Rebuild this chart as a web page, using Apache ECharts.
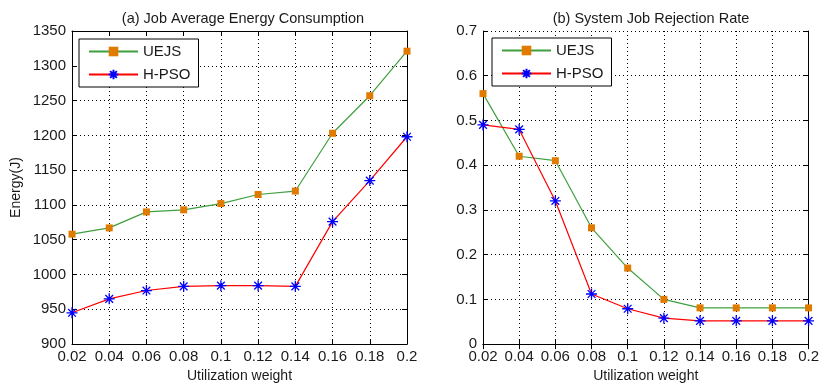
<!DOCTYPE html>
<html>
<head>
<meta charset="utf-8">
<script src="https://cdn.jsdelivr.net/npm/echarts@6/dist/echarts.min.js"></script>
<style>
  html, body { margin: 0; padding: 0; background: #fff; }
  #chart { width: 822px; height: 388px; }
</style>
</head>
<body>
<div id="chart"></div>
<script>
// data
const weights = ['0.02', '0.04', '0.06', '0.08', '0.1', '0.12', '0.14', '0.16', '0.18', '0.2']
const energyUEJS = [1058, 1067, 1090, 1093, 1102, 1115, 1120, 1203, 1257, 1321]
const energyHPSO = [945, 965, 977, 983, 984, 984, 983, 1076, 1135, 1198]
const rejectUEJS = [0.56, 0.42, 0.41, 0.26, 0.17, 0.10, 0.081, 0.081, 0.081, 0.081]
const rejectHPSO = [0.49, 0.48, 0.32, 0.112, 0.079, 0.058, 0.052, 0.052, 0.052, 0.052]

const FONT = 'Liberation Sans'
const TXT = '#1a1a1a'
const GREEN = '#3f9f3f'
const ORANGE = '#e07b00'
const RED = '#ff0000'
const BLUE = '#0000ff'
// MATLAB 风格的 * 号
const STAR = 'path://M0,5 L10,5 M5,0 L5,10 M1.5,1.5 L8.5,8.5 M8.5,1.5 L1.5,8.5'

const chart = echarts.init(document.getElementById('chart'), null, { renderer: 'canvas' })

const grids = [
  { left: 72, right: 415, top: 31, bottom: 42 },
  { left: 483, right: 9, top: 31, bottom: 43 },
]

const dotted = { show: true, lineStyle: { color: '#000', type: [1, 3], width: 1 } }
const frame = { show: true, lineStyle: { color: '#000', width: 1 } }
const tickIn = { show: true, inside: true, length: 5, lineStyle: { color: '#000' } }

function xAxes(gi) {
  return [
    {
      type: 'category', gridIndex: gi, data: weights, boundaryGap: false,
      name: 'Utilization weight', nameLocation: 'middle', nameGap: 20,
      nameTextStyle: { fontFamily: FONT, fontSize: 14, color: TXT },
      axisLine: frame, axisTick: tickIn, splitLine: dotted,
      axisLabel: { fontFamily: FONT, fontSize: 15, color: TXT, margin: 5, interval: 0 },
    },
    {
      type: 'category', gridIndex: gi, data: weights, boundaryGap: false, position: 'top',
      axisLine: frame, axisTick: tickIn, axisLabel: { show: false }, splitLine: { show: false },
    },
  ]
}

function yAxes(gi, min, max, interval, name) {
  return [
    {
      type: 'value', gridIndex: gi, min, max, interval,
      name, nameLocation: 'middle', nameGap: 49,
      nameTextStyle: { fontFamily: FONT, fontSize: 14, color: TXT },
      axisLine: frame, axisTick: tickIn, splitLine: dotted,
      axisLabel: {
        fontFamily: FONT, fontSize: 15, color: TXT, margin: 6,
        formatter: (v) => String(+v.toFixed(2)), // 不要千分位逗号
      },
    },
    {
      type: 'value', gridIndex: gi, min, max, interval, position: 'right',
      axisLine: frame, axisTick: tickIn, axisLabel: { show: false }, splitLine: { show: false },
    },
  ]
}

function uejs(data, gi) {
  return {
    name: 'UEJS', type: 'line', data, xAxisIndex: gi * 2, yAxisIndex: gi * 2,
    symbol: 'rect', symbolSize: 7, showAllSymbol: true,
    lineStyle: { color: GREEN, width: 1.2 },
    itemStyle: { color: ORANGE },
    emphasis: { disabled: true },
  }
}

function hpso(data, gi) {
  return {
    name: 'H-PSO', type: 'line', data, xAxisIndex: gi * 2, yAxisIndex: gi * 2,
    symbol: STAR, symbolSize: 11, showAllSymbol: true,
    lineStyle: { color: RED, width: 1.2 },
    itemStyle: { color: BLUE, borderColor: BLUE, borderWidth: 1.3 },
    emphasis: { disabled: true },
  }
}

function legend(left, top) {
  return {
    orient: 'vertical', left, top,
    padding: [5, 8, 5, 9], itemGap: 8, itemWidth: 49, itemHeight: 12,
    borderColor: '#000', borderWidth: 1, backgroundColor: '#fff',
    textStyle: { fontFamily: FONT, fontSize: 15, color: TXT },
    data: ['UEJS', 'H-PSO'],
  }
}

const titleStyle = { fontFamily: FONT, fontSize: 14.5, fontWeight: 'normal', color: TXT }

chart.setOption({
  animation: false,
  title: [
    { text: '(a) Job Average Energy Consumption', left: 238, top: 6, textAlign: 'center', textStyle: titleStyle },
    { text: '(b) System Job Rejection Rate', left: 646, top: 6, textAlign: 'center', textStyle: titleStyle },
  ],
  legend: [legend(79, 39), legend(492, 38)],
  grid: grids,
  xAxis: [...xAxes(0), ...xAxes(1)],
  yAxis: [...yAxes(0, 900, 1350, 50, 'Energy(J)'), ...yAxes(1, 0, 0.7, 0.1, '')],
  series: [uejs(energyUEJS, 0), hpso(energyHPSO, 0), uejs(rejectUEJS, 1), hpso(rejectHPSO, 1)],
})
</script>
</body>
</html>
